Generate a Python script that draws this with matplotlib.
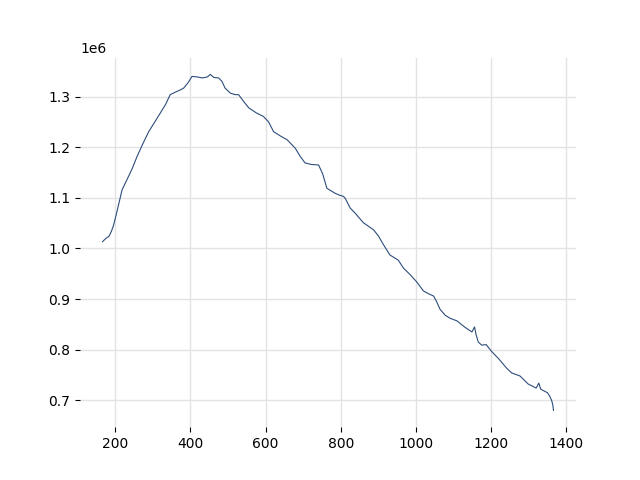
import matplotlib
matplotlib.use("Agg")
import matplotlib.pyplot as plt

x_vals = [166, 175, 183, 189, 195, 205, 218, 231, 245, 258, 272, 289, 305, 320, 334, 346,
          360, 372, 382, 394, 404, 418, 432, 445, 453, 462, 475, 484, 492, 506, 519, 528,
          541, 555, 575, 594, 608, 621, 640, 657, 679, 692, 705, 722, 741, 752, 763, 785,
          798, 807, 812, 825, 838, 860, 887, 900, 914, 931, 953, 967, 985, 1002, 1020, 1035,
          1047, 1055, 1064, 1078, 1091, 1109, 1131, 1149, 1156, 1160, 1166, 1175, 1187, 1202,
          1219, 1242, 1255, 1277, 1299, 1310, 1320, 1327, 1332, 1337, 1350, 1356, 1361, 1364, 1366]
y_vals = [1.0135, 1.020, 1.024, 1.033, 1.045, 1.075, 1.116, 1.136, 1.158, 1.182, 1.205, 1.231,
          1.250, 1.268, 1.285, 1.304, 1.309, 1.313, 1.317, 1.328, 1.340, 1.339, 1.337, 1.339,
          1.344, 1.338, 1.337, 1.330, 1.317, 1.307, 1.304, 1.304, 1.291, 1.278, 1.268, 1.261,
          1.250, 1.231, 1.222, 1.215, 1.198, 1.182, 1.169, 1.166, 1.165, 1.147, 1.119, 1.109,
          1.105, 1.103, 1.099, 1.080, 1.070, 1.051, 1.037, 1.025, 1.007, 0.987, 0.977, 0.961,
          0.948, 0.934, 0.916, 0.910, 0.906, 0.895, 0.880, 0.868, 0.862, 0.857, 0.844, 0.835,
          0.845, 0.830, 0.815, 0.809, 0.810, 0.796, 0.783, 0.763, 0.754, 0.748, 0.732, 0.728,
          0.724, 0.734, 0.722, 0.720, 0.715, 0.708, 0.700, 0.692, 0.680]

y_scaled = [v * 1e6 for v in y_vals]

fig, ax = plt.subplots(figsize=(6.4, 4.8), dpi=100)
ax.plot(x_vals, y_scaled, color="#2d4d7a", linewidth=0.8)
ax.grid(True, color="#e3e3e3", linewidth=1.0)
ax.set_axisbelow(True)
for s in ax.spines.values():
    s.set_visible(False)
fig.savefig("out.png", dpi=100)
